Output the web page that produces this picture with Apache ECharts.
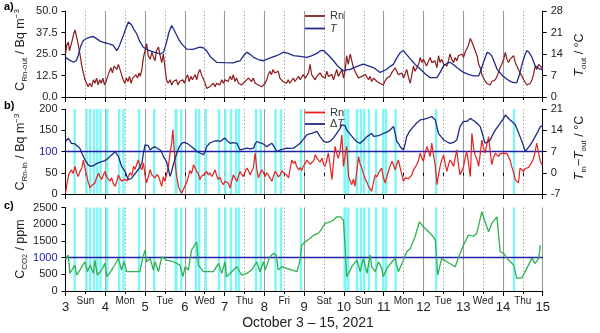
<!DOCTYPE html>
<html><head><meta charset="utf-8">
<script src="https://cdn.jsdelivr.net/npm/echarts@6/dist/echarts.min.js"></script>
<style>html,body{margin:0;padding:0;background:#fff}#c{width:600px;height:333px}</style>
</head><body><div id="c"></div>
<script>
// ---------------- DATA ----------------
const dayMin = 3, dayMax = 15;
const halfDayNames = ['Sun','Mon','Tue','Wed','Thu','Fri','Sat','Sun','Mon','Tue','Wed','Thu'];
const xTitle = 'October 3 \u2013 15, 2021';

// panel a: outdoor radon [day, Bq m-3]
const rnOut = [[3.00,25],[3.03,30],[3.07,32],[3.10,27],[3.13,28],[3.17,33],[3.21,37],[3.24,39],[3.27,38],[3.30,33],[3.34,32],[3.37,24],[3.41,18],[3.45,14],[3.49,10],[3.53,9],[3.57,6],[3.61,8],[3.66,6],[3.70,10],[3.74,8],[3.78,11],[3.82,7],[3.86,10],[3.90,8],[3.94,11],[3.98,7],[4.02,9],[4.06,12],[4.10,11],[4.14,17],[4.18,14],[4.22,18],[4.25,19],[4.29,16],[4.33,19],[4.37,18],[4.41,13],[4.45,10],[4.49,8],[4.53,11],[4.57,9],[4.61,12],[4.65,8],[4.69,11],[4.73,10],[4.77,13],[4.81,11],[4.85,14],[4.88,12],[4.92,16],[4.96,23],[5.00,27],[5.04,31],[5.08,24],[5.13,22],[5.17,26],[5.21,25],[5.25,21],[5.29,27],[5.34,29],[5.38,24],[5.42,20],[5.46,25],[5.50,24],[5.54,10],[5.58,8],[5.63,10],[5.67,7],[5.71,9],[5.75,8],[5.79,10],[5.83,7],[5.87,9],[5.91,8],[5.95,10],[5.99,8],[6.03,11],[6.07,13],[6.11,9],[6.15,12],[6.19,10],[6.22,9],[6.26,13],[6.30,10],[6.34,14],[6.38,16],[6.42,13],[6.47,12],[6.51,8],[6.55,5],[6.59,4],[6.63,6],[6.68,5],[6.72,8],[6.76,6],[6.80,8],[6.84,9],[6.88,7],[6.93,10],[6.97,8],[7.01,10],[7.05,11],[7.09,9],[7.14,12],[7.18,10],[7.22,13],[7.26,9],[7.30,11],[7.35,8],[7.39,9],[7.43,7],[7.47,6],[7.51,9],[7.56,8],[7.60,11],[7.64,10],[7.68,9],[7.72,11],[7.77,8],[7.81,9],[7.85,7],[7.89,8],[7.94,6],[7.98,6],[8.02,8],[8.06,10],[8.10,13],[8.14,15],[8.18,13],[8.22,16],[8.26,14],[8.31,13],[8.35,15],[8.39,11],[8.43,10],[8.47,9],[8.52,8],[8.56,8],[8.60,10],[8.64,8],[8.68,9],[8.73,11],[8.77,9],[8.81,10],[8.86,12],[8.90,10],[8.94,11],[8.98,13],[9.03,11],[9.07,12],[9.11,14],[9.15,19],[9.19,13],[9.24,12],[9.28,10],[9.32,12],[9.36,11],[9.40,14],[9.45,12],[9.49,13],[9.53,11],[9.57,15],[9.61,12],[9.66,11],[9.70,13],[9.74,10],[9.78,13],[9.82,16],[9.86,12],[9.91,14],[9.95,16],[9.99,11],[10.03,15],[10.07,24],[10.11,19],[10.16,25],[10.20,21],[10.24,17],[10.28,16],[10.32,13],[10.37,11],[10.41,10],[10.45,12],[10.50,11],[10.54,13],[10.58,12],[10.62,10],[10.66,12],[10.70,9],[10.75,11],[10.79,10],[10.83,9],[10.87,10],[10.91,8],[10.95,9],[10.99,7],[11.03,9],[11.08,11],[11.12,10],[11.16,12],[11.20,14],[11.24,13],[11.29,17],[11.33,15],[11.37,13],[11.42,12],[11.46,14],[11.50,11],[11.54,10],[11.58,16],[11.63,11],[11.67,8],[11.71,13],[11.75,18],[11.79,15],[11.83,14],[11.88,19],[11.92,23],[11.96,20],[12.00,22],[12.04,22],[12.08,18],[12.13,21],[12.17,23],[12.21,20],[12.25,19],[12.29,21],[12.34,17],[12.38,24],[12.42,20],[12.46,22],[12.51,19],[12.55,20],[12.59,18],[12.63,21],[12.67,25],[12.71,22],[12.76,20],[12.80,23],[12.84,21],[12.88,24],[12.92,23],[12.97,25],[13.01,23],[13.05,26],[13.09,27],[13.13,30],[13.18,34],[13.22,32],[13.26,31],[13.30,27],[13.35,24],[13.39,19],[13.43,17],[13.47,13],[13.51,11],[13.55,10],[13.59,8],[13.64,9],[13.68,7],[13.72,9],[13.76,8],[13.81,10],[13.85,12],[13.89,11],[13.93,17],[13.97,19],[14.02,22],[14.06,26],[14.10,22],[14.14,20],[14.18,22],[14.23,21],[14.27,24],[14.31,20],[14.35,18],[14.39,16],[14.43,14],[14.48,12],[14.52,10],[14.56,9],[14.60,7],[14.64,6],[14.69,8],[14.73,10],[14.77,13],[14.81,18],[14.85,16],[14.90,19],[14.94,20],[14.98,17],[15.00,16]];

// panel a: outdoor temperature [day, degC]
const tOut = [[3.00,12.9],[3.10,12.0],[3.20,11.3],[3.27,11.8],[3.32,13.5],[3.38,16.5],[3.45,18.4],[3.55,19.2],[3.62,19.5],[3.70,19.7],[3.78,19.0],[3.87,18.2],[3.95,17.8],[4.04,17.5],[4.12,17.2],[4.20,16.8],[4.29,15.1],[4.33,16.0],[4.37,17.2],[4.44,19.5],[4.50,21.7],[4.58,24.4],[4.62,24.2],[4.66,23.5],[4.72,22.0],[4.79,20.6],[4.87,18.0],[4.96,16.2],[5.05,15.5],[5.13,15.0],[5.25,14.5],[5.38,14.0],[5.46,14.5],[5.50,16.0],[5.54,17.8],[5.60,21.0],[5.67,23.3],[5.73,21.8],[5.80,20.0],[5.86,18.5],[5.92,17.3],[6.05,15.6],[6.20,15.5],[6.38,16.2],[6.47,16.0],[6.55,15.0],[6.65,13.0],[6.80,11.3],[7.00,11.2],[7.22,11.1],[7.30,11.5],[7.39,11.8],[7.48,13.5],[7.56,14.6],[7.65,13.8],[7.73,12.9],[7.85,12.2],[7.98,11.8],[8.10,12.5],[8.20,13.0],[8.31,13.5],[8.40,14.0],[8.48,14.6],[8.60,14.2],[8.73,13.5],[8.90,13.2],[9.07,12.9],[9.20,13.5],[9.32,14.2],[9.40,15.0],[9.48,15.2],[9.53,15.1],[9.62,13.5],[9.74,11.8],[9.85,10.0],[9.99,8.5],[10.08,8.8],[10.16,9.0],[10.30,9.8],[10.40,10.3],[10.49,10.7],[10.60,10.2],[10.74,9.6],[10.83,8.8],[10.91,8.0],[11.05,8.8],[11.15,9.8],[11.25,10.7],[11.32,12.5],[11.42,14.5],[11.50,15.1],[11.58,13.8],[11.67,12.4],[11.80,10.5],[11.92,9.1],[12.05,7.5],[12.17,6.3],[12.34,6.3],[12.42,8.0],[12.51,10.2],[12.60,11.0],[12.67,11.3],[12.75,10.6],[12.84,9.6],[13.01,8.0],[13.15,7.3],[13.26,6.9],[13.39,6.9],[13.45,8.8],[13.51,11.3],[13.56,13.0],[13.60,14.5],[13.66,14.2],[13.72,13.4],[13.78,11.5],[13.85,9.1],[13.97,7.2],[14.10,5.8],[14.20,5.0],[14.27,4.7],[14.35,4.7],[14.42,7.5],[14.48,10.7],[14.55,13.5],[14.60,15.1],[14.66,14.5],[14.73,12.9],[14.81,10.2],[14.88,9.5],[14.94,9.1],[15.00,8.8]];

// panel b: indoor radon [day, Bq m-3]
const rnIn = [[3.00,2],[3.04,25],[3.08,45],[3.12,52],[3.15,57],[3.19,48],[3.24,65],[3.28,50],[3.32,41],[3.36,52],[3.41,61],[3.45,80],[3.49,60],[3.53,45],[3.57,28],[3.62,14],[3.66,20],[3.70,16],[3.74,26],[3.78,38],[3.83,49],[3.87,40],[3.91,34],[3.95,44],[3.99,53],[4.04,40],[4.08,36],[4.12,30],[4.16,38],[4.20,25],[4.25,18],[4.29,30],[4.33,45],[4.37,36],[4.41,30],[4.46,26],[4.50,35],[4.54,30],[4.58,41],[4.62,50],[4.67,44],[4.71,65],[4.75,58],[4.79,70],[4.83,80],[4.87,66],[4.92,57],[4.96,73],[5.00,45],[5.04,26],[5.08,40],[5.13,57],[5.17,45],[5.21,49],[5.25,38],[5.30,46],[5.34,41],[5.38,30],[5.42,18],[5.46,41],[5.50,30],[5.54,34],[5.58,60],[5.63,96],[5.67,120],[5.70,151],[5.73,110],[5.75,80],[5.79,45],[5.84,18],[5.88,8],[5.92,2],[5.96,10],[6.01,14],[6.05,28],[6.09,41],[6.13,55],[6.17,48],[6.22,69],[6.26,60],[6.30,53],[6.34,48],[6.38,34],[6.42,42],[6.47,38],[6.51,48],[6.55,53],[6.59,45],[6.63,50],[6.68,41],[6.72,48],[6.76,57],[6.80,44],[6.84,34],[6.88,40],[6.93,28],[6.97,22],[7.01,30],[7.05,34],[7.09,26],[7.14,14],[7.18,30],[7.22,45],[7.26,38],[7.31,30],[7.35,42],[7.39,53],[7.43,46],[7.47,41],[7.51,50],[7.56,61],[7.60,55],[7.64,45],[7.68,53],[7.72,60],[7.77,96],[7.81,60],[7.85,38],[7.89,48],[7.94,57],[7.98,50],[8.02,41],[8.06,50],[8.10,45],[8.14,38],[8.19,30],[8.23,42],[8.27,53],[8.31,48],[8.35,40],[8.40,45],[8.44,55],[8.48,50],[8.52,53],[8.56,45],[8.61,38],[8.65,60],[8.69,80],[8.73,72],[8.77,77],[8.81,66],[8.86,57],[8.90,62],[8.94,55],[8.98,65],[9.03,72],[9.07,80],[9.11,75],[9.15,70],[9.19,69],[9.24,78],[9.28,92],[9.32,85],[9.36,80],[9.40,75],[9.45,84],[9.49,70],[9.53,65],[9.57,80],[9.61,96],[9.65,70],[9.70,34],[9.74,75],[9.78,112],[9.82,95],[9.86,84],[9.90,100],[9.95,139],[9.99,65],[10.03,90],[10.07,112],[10.12,41],[10.16,30],[10.20,22],[10.24,35],[10.28,18],[10.32,50],[10.37,88],[10.41,70],[10.45,61],[10.50,45],[10.54,34],[10.58,28],[10.62,18],[10.66,12],[10.70,6],[10.75,30],[10.79,45],[10.83,40],[10.87,49],[10.91,55],[10.95,61],[10.99,40],[11.04,26],[11.08,40],[11.12,53],[11.16,65],[11.21,77],[11.25,68],[11.29,57],[11.33,70],[11.37,80],[11.42,61],[11.46,45],[11.50,30],[11.54,38],[11.58,41],[11.63,36],[11.67,34],[11.71,45],[11.75,57],[11.79,62],[11.83,69],[11.88,80],[11.92,96],[11.96,85],[12.00,77],[12.04,95],[12.09,112],[12.13,100],[12.17,88],[12.21,120],[12.25,95],[12.30,65],[12.34,22],[12.38,45],[12.42,65],[12.46,80],[12.51,92],[12.55,70],[12.59,53],[12.63,68],[12.67,80],[12.71,75],[12.76,65],[12.80,85],[12.84,104],[12.88,70],[12.92,45],[12.97,55],[13.01,65],[13.05,85],[13.09,100],[13.13,75],[13.18,41],[13.22,143],[13.26,110],[13.30,92],[13.35,80],[13.39,65],[13.43,95],[13.47,127],[13.51,110],[13.55,96],[13.59,115],[13.64,135],[13.68,100],[13.72,69],[13.76,85],[13.81,96],[13.85,92],[13.89,88],[13.93,95],[13.97,92],[14.02,96],[14.06,100],[14.10,95],[14.14,92],[14.18,80],[14.22,65],[14.27,50],[14.31,34],[14.35,30],[14.39,26],[14.43,61],[14.48,58],[14.52,53],[14.56,60],[14.60,57],[14.64,62],[14.69,65],[14.73,75],[14.77,84],[14.81,100],[14.85,120],[14.90,95],[14.94,77],[14.98,69],[15.00,70]];

// panel b: indoor-outdoor temperature difference [day, degC]
const dT = [[3.00,10.3],[3.07,11.4],[3.11,10.5],[3.15,9.7],[3.24,9.5],[3.30,8.8],[3.36,8.1],[3.42,6.2],[3.49,4.3],[3.57,2.6],[3.63,2.2],[3.70,2.3],[3.78,3.0],[3.87,3.5],[3.92,3.2],[3.99,4.0],[4.06,4.6],[4.12,5.4],[4.19,6.2],[4.25,7.0],[4.29,6.5],[4.33,5.4],[4.37,3.8],[4.41,2.1],[4.46,1.2],[4.50,0.4],[4.54,-1.0],[4.58,-2.3],[4.66,-1.8],[4.72,-0.8],[4.79,0.4],[4.86,1.5],[4.92,3.2],[4.96,6.5],[5.00,9.2],[5.04,8.6],[5.08,8.9],[5.13,7.5],[5.19,8.2],[5.25,8.6],[5.31,8.0],[5.38,7.5],[5.42,6.8],[5.46,5.4],[5.54,3.7],[5.58,1.5],[5.63,-1.2],[5.67,0.5],[5.71,2.6],[5.76,4.8],[5.80,6.5],[5.86,8.5],[5.92,9.7],[5.98,10.0],[6.05,9.7],[6.11,9.2],[6.17,8.6],[6.24,7.8],[6.30,7.0],[6.38,6.5],[6.47,6.0],[6.51,7.0],[6.55,8.6],[6.63,9.8],[6.72,10.3],[6.80,10.6],[6.89,10.3],[6.95,10.9],[7.01,11.4],[7.07,10.5],[7.14,9.7],[7.22,9.9],[7.31,9.7],[7.35,8.5],[7.39,7.5],[7.47,7.8],[7.56,8.1],[7.65,7.9],[7.73,8.1],[7.77,9.5],[7.81,10.3],[7.88,9.9],[7.94,9.7],[8.00,9.2],[8.06,8.6],[8.12,9.2],[8.19,9.7],[8.25,8.5],[8.31,7.0],[8.40,7.5],[8.48,7.8],[8.56,8.1],[8.65,8.0],[8.73,8.1],[8.81,8.8],[8.90,9.7],[8.98,11.0],[9.07,12.5],[9.13,12.8],[9.19,13.0],[9.26,13.3],[9.32,13.6],[9.40,12.0],[9.49,10.3],[9.57,10.0],[9.65,10.3],[9.74,11.5],[9.82,13.0],[9.90,14.5],[9.95,15.8],[9.99,16.3],[10.03,15.5],[10.07,14.1],[10.15,12.8],[10.24,11.4],[10.32,10.3],[10.41,9.7],[10.50,10.8],[10.58,11.9],[10.64,12.4],[10.70,13.0],[10.75,12.0],[10.79,11.4],[10.88,12.2],[11.00,13.0],[11.06,13.3],[11.12,13.6],[11.19,14.5],[11.25,15.2],[11.29,13.0],[11.33,10.3],[11.38,9.5],[11.42,8.5],[11.50,7.5],[11.54,9.5],[11.58,11.9],[11.66,13.8],[11.75,15.2],[11.83,16.4],[11.92,17.4],[12.00,17.6],[12.09,17.9],[12.15,18.2],[12.21,18.5],[12.30,17.4],[12.34,15.0],[12.38,13.0],[12.45,11.8],[12.51,10.8],[12.59,10.2],[12.67,9.7],[12.76,10.0],[12.84,10.8],[12.88,13.0],[12.92,15.2],[12.97,16.2],[13.01,16.9],[13.09,16.9],[13.14,17.4],[13.18,17.9],[13.24,17.4],[13.30,16.9],[13.37,16.0],[13.43,15.2],[13.49,12.5],[13.55,9.7],[13.62,10.2],[13.68,10.8],[13.74,12.5],[13.81,14.1],[13.87,15.2],[13.93,16.3],[14.00,17.6],[14.06,19.0],[14.12,18.2],[14.18,17.4],[14.25,16.6],[14.31,15.8],[14.37,13.9],[14.43,11.9],[14.50,9.5],[14.56,7.0],[14.62,8.0],[14.69,9.2],[14.75,10.5],[14.81,11.9],[14.88,13.6],[14.94,15.2],[15.00,15.5]];

// panel c: indoor CO2 [day, ppm]
const co2 = [[3.00,950],[3.03,976],[3.07,1076],[3.11,528],[3.17,650],[3.24,777],[3.28,478],[3.35,600],[3.41,727],[3.49,876],[3.55,578],[3.62,777],[3.70,528],[3.74,926],[3.80,478],[3.91,627],[3.99,827],[4.04,428],[4.10,520],[4.16,627],[4.25,800],[4.33,976],[4.41,627],[4.47,876],[4.54,578],[4.70,580],[4.87,578],[4.94,976],[5.00,1225],[5.04,876],[5.13,976],[5.21,627],[5.25,876],[5.34,578],[5.42,1026],[5.54,926],[5.71,876],[5.88,777],[5.95,428],[6.01,727],[6.09,627],[6.17,1225],[6.30,1474],[6.34,777],[6.38,727],[6.47,578],[6.72,578],[6.85,827],[6.93,528],[7.01,876],[7.05,428],[7.18,578],[7.31,727],[7.43,478],[7.56,528],[7.68,627],[7.81,876],[7.89,578],[7.98,876],[8.02,627],[8.14,1026],[8.23,1125],[8.30,1076],[8.35,627],[8.44,727],[8.56,677],[8.82,578],[8.90,926],[8.94,1375],[9.03,1474],[9.15,1574],[9.24,1673],[9.36,1723],[9.45,1873],[9.53,2022],[9.66,2072],[9.74,2122],[9.82,2221],[9.91,2221],[9.99,2122],[10.03,1325],[10.07,428],[10.12,528],[10.20,727],[10.33,926],[10.41,578],[10.49,976],[10.58,528],[10.66,1076],[10.70,727],[10.79,578],[10.87,876],[10.95,677],[10.99,428],[11.08,677],[11.21,876],[11.29,976],[11.37,578],[11.42,528],[11.50,926],[11.58,1175],[11.67,1275],[11.79,1623],[11.90,2072],[12.00,1922],[12.13,1773],[12.25,1623],[12.30,1525],[12.36,478],[12.46,976],[12.59,876],[12.80,727],[12.92,1125],[13.01,1375],[13.13,1673],[13.26,1640],[13.34,1723],[13.47,2371],[13.55,2072],[13.64,1773],[13.72,2022],[13.85,2221],[13.93,1175],[14.02,1125],[14.14,926],[14.27,777],[14.35,378],[14.48,400],[14.60,677],[14.73,976],[14.81,827],[14.90,976],[14.94,1375]];

// cyan periods (start day, end day) shown in panels b and c
const ventBands = [[3.20,3.26],[3.50,3.56],[3.59,3.65],[3.69,3.75],[3.77,3.83],[3.85,3.91],[4.01,4.08],[4.32,4.38],[4.43,4.49],[4.82,4.88],[5.20,5.26],[5.74,5.82],[5.88,5.94],[6.25,6.31],[6.33,6.39],[6.50,6.56],[6.83,6.89],[6.99,7.05],[7.13,7.19],[7.26,7.32],[7.33,7.39],[7.76,7.82],[7.88,7.94],[8.25,8.31],[8.39,8.45],[8.89,8.95],[9.99,10.07],[10.08,10.14],[10.30,10.36],[10.40,10.46],[10.48,10.54],[10.60,10.66],[10.78,10.84],[10.96,11.02],[11.03,11.09],[11.27,11.33],[12.29,12.35],[14.25,14.31]];

const rnInRef = 100;     // horizontal reference in panel b
const co2Ref = 1000;     // horizontal reference in panel c

// ---------------- STYLE ----------------
const FONT = '"Liberation Sans", Arial, Helvetica, sans-serif';
const TXT = '#222';
const C_RNOUT = '#8c1c1c', C_T = '#1f2a8c', C_RNIN = '#e8211f', C_DT = '#1c2a86', C_CO2 = '#2fb14f', C_REF = '#2020a8', C_CYAN = '#7ff6f6';
const L = 65.5, R = 57.3;
const grids = [
  {left: L, right: R, top: 11, height: 86},
  {left: L, right: R, top: 109, height: 85},
  {left: L, right: R, top: 207.5, height: 83.5}
];

function xAxes(gi, labels) {
  return [
    { type: 'value', gridIndex: gi, position: 'bottom', min: dayMin, max: dayMax, interval: 1,
      axisLine: {show: true, lineStyle: {color: '#000', width: 1}},
      axisTick: {show: true, length: 5, lineStyle: {color: '#000'}},
      splitLine: {show: true, lineStyle: {color: '#9a9a9a', width: 1.1}},
      axisLabel: {show: labels, fontSize: 13, margin: 10, color: TXT, fontFamily: FONT}
    },
    { type: 'value', gridIndex: gi, position: 'bottom', min: dayMin, max: dayMax, interval: 0.5,
      axisLine: {show: false},
      axisTick: {show: true, length: 3, lineStyle: {color: '#000'}},
      splitLine: {show: true, lineStyle: {color: ['rgba(0,0,0,0)', '#aaaaaa'], type: [1.5, 2], width: 1}},
      axisLabel: {show: labels, fontSize: 10, margin: 5, color: TXT, fontFamily: FONT,
        formatter: v => (Math.abs(v % 1 - 0.5) < 1e-6) ? halfDayNames[Math.floor(v - dayMin)] : ''}
    }
  ];
}
const yCommon = (extra) => Object.assign({
  type: 'value',
  axisLine: {show: true, lineStyle: {color: '#000', width: 1}},
  axisTick: {show: true, length: 4, lineStyle: {color: '#000'}},
  splitLine: {show: false},
  axisLabel: {fontSize: 11, color: TXT, fontFamily: FONT, margin: 8}
}, extra);

const bandData = ventBands.map(b => [{xAxis: b[0]}, {xAxis: b[1]}]);
const lineS = (name, xi, yi, data, color, width, z) => ({
  name, type: 'line', xAxisIndex: xi, yAxisIndex: yi, data, symbol: 'none', showSymbol: false,
  lineStyle: {color, width}, itemStyle: {color}, z: z || 5, silent: true
});

const nameRich = {
  c: {fontSize: 12.5, fontFamily: FONT, color: TXT, lineHeight: 16},
  i: {fontSize: 12.5, fontFamily: FONT, fontStyle: 'italic', color: TXT, lineHeight: 16},
  n: {fontSize: 12.5, fontFamily: FONT, color: TXT, lineHeight: 16},
  s: {fontSize: 8, fontFamily: FONT, color: TXT, lineHeight: 8, verticalAlign: 'bottom'},
  ss: {fontSize: 6.5, fontFamily: FONT, color: TXT, lineHeight: 4, verticalAlign: 'bottom'},
  p: {fontSize: 8, fontFamily: FONT, color: TXT, lineHeight: 8, verticalAlign: 'top'}
};
const vText = (x, y, text) => ({type: 'text', x, y, rotation: Math.PI / 2, silent: true,
  style: {text, rich: nameRich, align: 'center', verticalAlign: 'middle', fill: TXT}});
const tag = (x, y, text) => ({type: 'text', x, y, silent: true,
  style: {text, fontSize: 11, fontWeight: 'bold', fontFamily: FONT, fill: '#000', align: 'left', verticalAlign: 'middle'}});
const legendText = {fontSize: 11, color: '#333', fontFamily: FONT,
  rich: {i: {fontStyle: 'italic', fontSize: 11, fontFamily: FONT, color: '#333'}}};

const option = {
  animation: false,
  backgroundColor: '#fff',
  grid: grids,
  xAxis: [...xAxes(0, false), ...xAxes(1, false), ...xAxes(2, true)],
  yAxis: [
    yCommon({gridIndex: 0, position: 'left', min: 0, max: 50, interval: 12.5,
      axisLabel: {fontSize: 11, color: TXT, fontFamily: FONT, margin: 8, formatter: v => v.toFixed(1)}}),
    yCommon({gridIndex: 0, position: 'right', min: 0, max: 28, interval: 7}),
    yCommon({gridIndex: 1, position: 'left', min: 0, max: 200, interval: 50,
      axisLabel: {fontSize: 11, color: TXT, fontFamily: FONT, margin: 8,
        formatter: v => v === rnInRef ? '{b|' + v + '}' : String(v),
        rich: {b: {color: C_REF, fontSize: 11, fontFamily: FONT}}}}),
    yCommon({gridIndex: 1, position: 'right', min: -7, max: 21, interval: 7}),
    yCommon({gridIndex: 2, position: 'left', min: 0, max: 2500, interval: 500,
      axisLabel: {fontSize: 11, color: TXT, fontFamily: FONT, margin: 8,
        formatter: v => v === co2Ref ? '{b|' + v + '}' : String(v),
        rich: {b: {color: C_REF, fontSize: 11, fontFamily: FONT}}}})
  ],
  legend: [
    {data: ['Rn_out', 'T_out'], orient: 'vertical', left: 305, top: 10.5, icon: 'rect', itemWidth: 20, itemHeight: 1.8, itemGap: 1.5,
      selectedMode: false, padding: 0, textStyle: legendText,
      formatter: n => n === 'Rn_out' ? 'Rn' : '{i|T}'},
    {data: ['Rn_in', 'dT'], orient: 'vertical', left: 305, top: 107, icon: 'rect', itemWidth: 20, itemHeight: 1.8, itemGap: 0.5,
      selectedMode: false, padding: 0, textStyle: legendText,
      formatter: n => n === 'Rn_in' ? 'Rn' : '\u0394{i|T}'}
  ],
  series: [
    lineS('Rn_out', 0, 0, rnOut, C_RNOUT, 1.2),
    lineS('T_out', 0, 1, tOut, C_T, 1.3, 6),
    {name: 'bandsB', type: 'line', xAxisIndex: 2, yAxisIndex: 2, data: [], z: 1, silent: true,
      markArea: {silent: true, itemStyle: {color: C_CYAN, opacity: 1}, data: bandData}},
    Object.assign(lineS('Rn_in', 2, 2, rnIn, C_RNIN, 1.2), {
      markLine: {silent: true, symbol: ['none', 'none'], label: {show: false},
        lineStyle: {color: C_REF, width: 1.4, type: 'solid'}, data: [{yAxis: rnInRef}]}}),
    lineS('dT', 2, 3, dT, C_DT, 1.3, 6),
    {name: 'bandsC', type: 'line', xAxisIndex: 4, yAxisIndex: 4, data: [], z: 1, silent: true,
      markArea: {silent: true, itemStyle: {color: C_CYAN, opacity: 1}, data: bandData}},
    Object.assign(lineS('CO2', 4, 4, co2, C_CO2, 1.3), {
      markLine: {silent: true, symbol: ['none', 'none'], label: {show: false},
        lineStyle: {color: C_REF, width: 1.4, type: 'solid'}, data: [{yAxis: co2Ref}]}})
  ],
  graphic: [
    tag(4, 7, 'a)'), tag(4, 106, 'b)'), tag(4, 206, 'c)'),
    vText(21, 50, '{c|C}{s|Rn-out}{n| / Bq m}{p|\u22123}'),
    vText(580, 55, '{i|T}{s|out}{n| / \u00B0C}'),
    vText(21, 152, '{c|C}{s|Rn-in}{n| / Bq m}{p|\u22123}'),
    vText(580, 148, '{i|T}{s|in}{n|\u2212}{i|T}{s|out}{n| / \u00B0C}'),
    vText(21, 249, '{c|C}{s|CO}{ss|2}{n| / ppm}'),
    {type: 'text', x: 308, y: 323, silent: true,
      style: {text: xTitle, fontSize: 14, fontFamily: FONT, fill: TXT, align: 'center', verticalAlign: 'middle'}}
  ]
};
echarts.init(document.getElementById('c'), null, {renderer: 'canvas'}).setOption(option);
</script>
</body></html>
